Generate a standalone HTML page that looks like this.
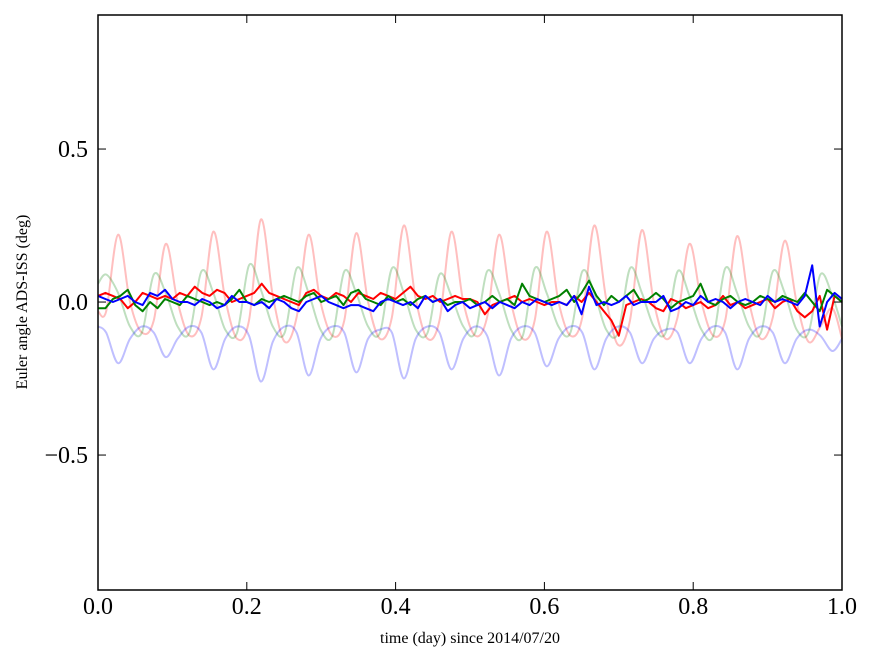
<!DOCTYPE html>
<html><head><meta charset="utf-8"><style>
html,body{margin:0;padding:0;background:#fff;}
svg{display:block;font-family:"Liberation Serif",serif;}
</style></head><body>
<svg id="chart" width="875" height="662">
<rect x="0" y="0" width="875" height="662" fill="#fff"/>
<g id="series"></g>
<rect x="98" y="15" width="744" height="575" fill="none" stroke="#000" stroke-width="1.5"/>
<g id="ticks"></g>
<text x="470" y="643" font-size="16" text-anchor="middle">time (day) since 2014/07/20</text>
<text transform="translate(27,302) rotate(-90)" font-size="16" text-anchor="middle">Euler angle ADS-ISS (deg)</text>
</svg>
<script>
const xTicks=[0,0.2,0.4,0.6,0.8,1.0];
const xTickLabels=["0.0","0.2","0.4","0.6","0.8","1.0"];
const yTicks=[-0.5,0,0.5];
const yTickLabels=["\u22120.5","0.0","0.5"];
const fastTimes=[0,0.011,0.027,0.043,0.059,0.075,0.091,0.107,0.123,0.139,0.155,0.171,0.187,0.203,0.219,0.235,0.251,0.267,0.283,0.299,0.315,0.331,0.347,0.363,0.379,0.395,0.411,0.427,0.443,0.459,0.475,0.491,0.507,0.523,0.539,0.555,0.571,0.587,0.603,0.619,0.635,0.651,0.667,0.683,0.699,0.715,0.731,0.747,0.763,0.779,0.795,0.811,0.827,0.843,0.859,0.875,0.891,0.907,0.923,0.939,0.955,0.971,0.987,1.0];
const pinkValues=[-0.03,-0.03,0.22,0.0,-0.10,-0.06,0.19,0.0,-0.11,-0.05,0.23,0.01,-0.12,-0.06,0.27,0.02,-0.13,-0.05,0.22,0.0,-0.11,-0.06,0.225,0.0,-0.12,-0.05,0.25,0.01,-0.12,-0.06,0.23,0.0,-0.11,-0.05,0.22,0.0,-0.12,-0.06,0.23,0.0,-0.11,-0.05,0.25,0.01,-0.14,-0.06,0.235,0.0,-0.12,-0.05,0.19,0.0,-0.11,-0.06,0.215,0.0,-0.12,-0.05,0.20,0.0,-0.13,-0.08,-0.02,-0.12];
const paleGreenValues=[0.06,0.09,0.03,-0.08,-0.10,0.09,0.03,-0.08,-0.10,0.10,0.03,-0.09,-0.10,0.12,0.04,-0.08,-0.10,0.11,0.03,-0.09,-0.11,0.10,0.03,-0.08,-0.10,0.11,0.03,-0.09,-0.10,0.09,0.02,-0.08,-0.10,0.10,0.03,-0.09,-0.11,0.11,0.03,-0.08,-0.10,0.10,0.03,-0.09,-0.10,0.11,0.03,-0.08,-0.10,0.10,0.02,-0.09,-0.11,0.11,0.03,-0.08,-0.10,0.10,0.03,-0.09,-0.10,0.09,0.02,-0.08];
const paleBlueValues=[-0.08,-0.10,-0.20,-0.12,-0.08,-0.10,-0.18,-0.12,-0.08,-0.10,-0.22,-0.12,-0.08,-0.11,-0.26,-0.13,-0.08,-0.10,-0.24,-0.12,-0.08,-0.10,-0.23,-0.12,-0.09,-0.10,-0.25,-0.12,-0.08,-0.10,-0.22,-0.12,-0.08,-0.11,-0.24,-0.12,-0.08,-0.10,-0.21,-0.12,-0.08,-0.10,-0.22,-0.12,-0.08,-0.10,-0.20,-0.12,-0.09,-0.10,-0.20,-0.12,-0.08,-0.10,-0.22,-0.12,-0.08,-0.10,-0.20,-0.12,-0.09,-0.11,-0.16,-0.12];
const slowTimes=[];for(let i=0;i<=100;i++)slowTimes.push(i/100);
const redValues=[0.02,0.03,0.02,0.01,-0.02,0.0,0.03,0.02,0.01,0.02,0.01,0.03,0.02,0.05,0.03,0.02,0.04,0.03,0.0,0.01,0.02,0.03,0.06,0.03,0.02,0.01,0.0,-0.01,0.03,0.04,0.02,0.01,0.03,0.02,0.0,0.03,0.02,0.01,0.03,0.02,0.01,0.03,0.05,0.02,0.01,0.02,0.0,0.01,0.02,0.01,0.01,0.0,-0.04,-0.01,0.0,0.01,0.02,0.0,0.01,0.0,-0.01,0.0,0.0,-0.01,0.02,0.0,0.03,0.0,-0.03,-0.06,-0.11,-0.01,0.0,0.01,0.0,-0.02,-0.03,0.01,0.0,-0.02,-0.01,0.0,-0.02,-0.01,0.02,-0.01,0.0,-0.02,-0.01,0.0,0.01,-0.02,0.0,0.01,-0.03,-0.05,-0.03,0.02,-0.09,0.02,0.0];
const greenValues=[-0.02,-0.02,0.01,0.02,0.04,-0.01,-0.03,0.0,-0.02,0.01,0.0,-0.01,0.02,0.01,0.0,-0.01,0.0,-0.01,0.01,0.04,0.0,-0.01,0.01,0.0,0.01,0.02,0.01,0.0,0.02,0.03,0.0,0.01,0.02,-0.01,0.03,0.04,0.01,0.0,-0.01,0.02,0.0,0.01,-0.01,0.01,0.02,0.0,0.01,-0.01,0.0,0.0,0.01,-0.01,0.0,0.02,0.0,0.01,-0.01,0.06,0.02,0.01,0.0,0.01,0.02,0.04,0.0,0.03,0.07,0.02,-0.01,0.02,0.0,0.02,0.04,0.0,0.01,0.03,0.01,-0.02,0.0,0.01,0.02,0.06,0.0,-0.01,0.01,0.02,0.0,-0.01,0.0,0.02,0.01,0.0,0.02,0.01,0.0,0.03,0.0,-0.03,0.04,0.02,0.0];
const blueValues=[0.02,0.01,0.0,0.01,0.02,0.0,-0.01,0.03,0.02,0.04,0.01,0.0,0.0,-0.01,0.01,0.0,-0.02,-0.01,0.02,0.0,0.0,-0.01,0.0,-0.02,0.01,0.0,-0.02,-0.03,0.0,0.01,0.02,0.0,-0.01,-0.02,-0.01,-0.01,-0.02,-0.03,0.0,0.01,0.0,-0.01,0.0,-0.02,0.02,0.0,0.01,-0.03,-0.01,0.0,-0.02,-0.01,0.0,-0.02,0.0,-0.01,-0.02,0.0,-0.01,0.01,0.0,-0.01,0.0,-0.01,0.02,-0.04,0.05,-0.01,0.0,-0.01,0.0,0.02,-0.01,0.0,0.0,0.0,0.02,-0.03,-0.02,0.0,-0.01,0.02,0.0,0.01,0.0,-0.02,0.0,0.01,0.0,-0.01,0.02,0.0,0.01,0.0,-0.01,0.02,0.12,-0.08,0.0,0.03,0.01];

const X0=98,X1=842,Y0=15,Y1=590,YMIN=-0.941,YMAX=0.938;
function xs(t){return X0+(t-0)/(1-0)*(X1-X0);}
function ys(v){return Y1-(v-YMIN)/(YMAX-YMIN)*(Y1-Y0);}
const NS="http://www.w3.org/2000/svg";
const sg=document.getElementById('series');
function smoothPath(ts,vs){
  const p=ts.map((t,i)=>[xs(t),ys(vs[i])]);
  let d="M"+p[0][0].toFixed(1)+","+p[0][1].toFixed(1);
  for(let i=0;i<p.length-1;i++){
    const a=p[Math.max(0,i-1)],b=p[i],c=p[i+1],e=p[Math.min(p.length-1,i+2)];
    const c1=[b[0]+(c[0]-a[0])/6,b[1]+(c[1]-a[1])/6],c2=[c[0]-(e[0]-b[0])/6,c[1]-(e[1]-b[1])/6];
    d+=" C"+c1.map(v=>v.toFixed(1)).join(",")+" "+c2.map(v=>v.toFixed(1)).join(",")+" "+c[0].toFixed(1)+","+c[1].toFixed(1);
  }
  return d;
}
function polyPath(ts,vs){return ts.map((t,i)=>(i?"L":"M")+xs(t).toFixed(1)+","+ys(vs[i]).toFixed(1)).join(" ");}
function addLine(d,color,op,name){
  const el=document.createElementNS(NS,'path');
  el.setAttribute('d',d);el.setAttribute('fill','none');el.setAttribute('stroke',color);
  el.setAttribute('stroke-width','2');el.setAttribute('stroke-opacity',op);el.setAttribute('stroke-linejoin','round');
  
  
  sg.appendChild(el);
}
addLine(smoothPath(fastTimes,pinkValues),'#ff0000',0.25,'faint-red-series');
addLine(smoothPath(fastTimes,paleGreenValues),'#008000',0.25,'faint-green-series');
addLine(smoothPath(fastTimes,paleBlueValues),'#0000ff',0.25,'faint-blue-series');
addLine(polyPath(slowTimes,redValues),'#ff0000',1,'red-series');
addLine(polyPath(slowTimes,greenValues),'#008000',1,'green-series');
addLine(polyPath(slowTimes,blueValues),'#0000ff',1,'blue-series');

const tg=document.getElementById('ticks');
xTicks.forEach((t,i)=>{
  const x=xs(t);
  [[Y1,Y1-8],[Y0,Y0+8]].forEach(([a,b])=>{
    const l=document.createElementNS(NS,'line');
    l.setAttribute('x1',x);l.setAttribute('x2',x);l.setAttribute('y1',a);l.setAttribute('y2',b);l.setAttribute('stroke','#000');
    
    
    tg.appendChild(l);
  });
  const tx=document.createElementNS(NS,'text');
  tx.setAttribute('x',x);tx.setAttribute('y',614);tx.setAttribute('font-size','24');tx.setAttribute('text-anchor','middle');
  tx.textContent=xTickLabels[i];
  
  
  tg.appendChild(tx);
});
yTicks.forEach((v,i)=>{
  const y=ys(v);
  [[X0,X0+8],[X1,X1-8]].forEach(([a,b])=>{
    const l=document.createElementNS(NS,'line');
    l.setAttribute('x1',a);l.setAttribute('x2',b);l.setAttribute('y1',y);l.setAttribute('y2',y);l.setAttribute('stroke','#000');
    
    
    tg.appendChild(l);
  });
  const tx=document.createElementNS(NS,'text');
  tx.setAttribute('x',88);tx.setAttribute('y',y+8);tx.setAttribute('font-size','24');tx.setAttribute('text-anchor','end');
  tx.textContent=yTickLabels[i];
  
  
  tg.appendChild(tx);
});
</script>
</body></html>
